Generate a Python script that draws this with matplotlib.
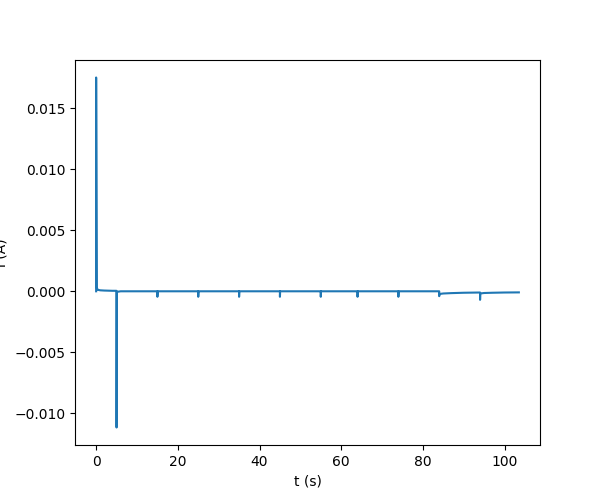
import matplotlib
matplotlib.use("Agg")
import matplotlib.pyplot as plt

# time (s) and current (A)
t = [0.0, 0.0, 0.15, 0.4, 1.0, 2.0, 3.0, 4.0, 4.95,
     5.0, 5.0, 5.05, 6.0,
     14.95, 15.0, 15.0, 15.05,
     24.95, 25.0, 25.0, 25.05,
     34.95, 35.0, 35.0, 35.05,
     44.95, 45.0, 45.0, 45.05,
     54.95, 55.0, 55.0, 55.05,
     63.95, 64.0, 64.0, 64.05,
     73.95, 74.0, 74.0, 74.05,
     83.95, 84.0, 84.0, 84.05, 85.0, 87.0, 90.0, 93.95,
     94.0, 94.0, 94.05, 95.0, 97.0, 100.0, 103.5]
i = [0.0, 0.0175, 0.0003, 0.00012, 0.00008, 0.00006, 0.00005, 0.00004, 0.00004,
     0.00003, -0.01115, -0.00005, 0.0,
     0.0, 0.0, -0.00045, 0.0,
     0.0, 0.0, -0.00045, 0.0,
     0.0, 0.0, -0.00045, 0.0,
     0.0, 0.0, -0.00045, 0.0,
     0.0, 0.0, -0.00045, 0.0,
     0.0, 0.0, -0.00045, 0.0,
     0.0, 0.0, -0.00045, 0.0,
     0.0, 0.0, -0.0004, -0.00022, -0.00018, -0.00015, -0.00012, -0.0001,
     -0.0001, -0.0007, -0.00018, -0.00014, -0.00012, -0.0001, -0.00009]

fig = plt.figure(figsize=(6, 5), dpi=100)
ax = fig.add_subplot(111)
ax.plot(t, i, color="#1f77b4", lw=1.5)
ax.set_xlabel("t (s)")
ax.set_ylabel("i (A)")
fig.savefig("out.png", dpi=100)
